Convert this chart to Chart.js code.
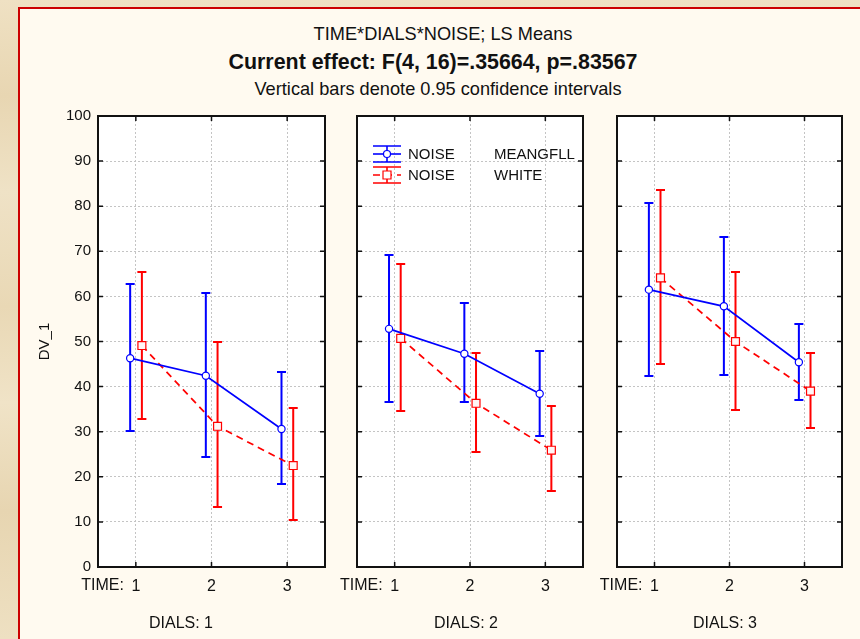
<!DOCTYPE html>
<html>
<head>
<meta charset="utf-8">
<title>TIME*DIALS*NOISE; LS Means</title>
<script src="https://cdn.jsdelivr.net/npm/chart.js@4.4.1/dist/chart.umd.min.js"></script>
<style>
  html, body { margin: 0; padding: 0; }
  body {
    position: relative; width: 860px; height: 639px; overflow: hidden;
    background-color: #ecdcbb;
    background-image:
      linear-gradient(180deg, #efe1c3 0%, #e8d6b2 15%, #efe2c6 30%, #e9d8b5 48%, #f0e3c7 63%, #e7d5b1 80%, #eee0c2 100%),
      none;
    font-family: 'Liberation Sans', Arial, sans-serif; color: #111;
  }
  #sheet {
    position: absolute; left: 18px; top: 7px; width: 900px; height: 700px;
    background: #fffaf0; border-left: 2px solid #cc0000; border-top: 2px solid #cc0000;
  }
  .ttl { position: absolute; width: 876px; text-align: center; white-space: nowrap; }
  #t1 { left: 5px; top: 24px; font-size: 18.2px; line-height: 20px; }
  #t2 { left: -5px; top: 50px; font-size: 21.4px; line-height: 24px; font-weight: bold; }
  #t3 { left: 0; top: 79px; font-size: 18.2px; line-height: 20px; }
  .dial { position: absolute; top: 614px; width: 120px; margin-left: -60px; text-align: center;
          font-size: 16px; line-height: 18px; }
  canvas { position: absolute; top: 100px; }
</style>
</head>
<body>
<div id="sheet"></div>
<div class="ttl" id="t1">TIME*DIALS*NOISE; LS Means</div>
<div class="ttl" id="t2">Current effect: F(4, 16)=.35664, p=.83567</div>
<div class="ttl" id="t3">Vertical bars denote 0.95 confidence intervals</div>
<canvas id="dial1" width="333" height="539" style="left:0px"></canvas>
<canvas id="dial2" width="258" height="539" style="left:333px"></canvas>
<canvas id="dial3" width="268" height="539" style="left:592px"></canvas>
<div class="dial" style="left:181px">DIALS: 1</div>
<div class="dial" style="left:466px">DIALS: 2</div>
<div class="dial" style="left:725px">DIALS: 3</div>
<script>
const timePoints = [1, 2, 3];
const dialLabels = ['DIALS: 1', 'DIALS: 2', 'DIALS: 3'];
const noiseLevels = ['MEANGFLL', 'WHITE'];

// LS means with 95% CI limits, one row per DIALS level, columns = TIME 1..3
const meangfllMean = [[46.3, 42.4, 30.6], [52.8, 47.3, 38.4], [61.5, 57.8, 45.4]];
const meangfllLow  = [[30.2, 24.3, 18.4], [36.5, 36.6, 29.1], [42.3, 42.6, 37.1]];
const meangfllHigh = [[62.8, 60.8, 43.3], [69.2, 58.5, 48.0], [80.7, 73.1, 53.9]];

const whiteMean = [[49.1, 31.2, 22.5], [50.7, 36.3, 25.9], [64.1, 50.0, 39.0]];
const whiteLow  = [[32.9, 13.2, 10.5], [34.5, 25.6, 16.9], [45.0, 34.8, 30.8]];
const whiteHigh = [[65.5, 49.8, 35.3], [67.2, 47.5, 35.6], [83.5, 65.5, 47.5]];

const FONT = "'Liberation Sans', Arial, sans-serif";
Chart.defaults.font.family = FONT;
Chart.defaults.color = '#111';

// the two noise series sit slightly left / right of each TIME position
const shift = [-0.075, 0.08];
const blue = '#0000ff', red = '#ff0000';

// white plot area, frame with inward ticks, "TIME:" prefix
const framePlugin = {
  id: 'framePlugin',
  beforeDraw(chart) {
    const { ctx, chartArea: a } = chart;
    ctx.save();
    ctx.fillStyle = '#ffffff';
    ctx.fillRect(a.left, a.top, a.right - a.left, a.bottom - a.top);
    ctx.restore();
  },
  afterDraw(chart) {
    const { ctx, chartArea: a, scales: { x, y } } = chart;
    ctx.save();
    ctx.strokeStyle = '#111';
    ctx.lineWidth = 1.5;
    ctx.beginPath();
    y.ticks.forEach(t => {
      const py = y.getPixelForValue(t.value);
      ctx.moveTo(a.left, py); ctx.lineTo(a.left + 5, py);
      ctx.moveTo(a.right - 5, py); ctx.lineTo(a.right, py);
    });
    x.ticks.forEach(t => {
      const px = x.getPixelForValue(t.value);
      ctx.moveTo(px, a.top); ctx.lineTo(px, a.top + 5);
      ctx.moveTo(px, a.bottom - 5); ctx.lineTo(px, a.bottom);
    });
    ctx.stroke();
    ctx.lineWidth = 2;
    ctx.strokeRect(a.left, a.top, a.right - a.left, a.bottom - a.top);

    ctx.font = '16px ' + FONT;
    ctx.fillStyle = '#111';
    ctx.textAlign = 'right';
    ctx.textBaseline = 'middle';
    ctx.fillText('TIME:', x.getPixelForValue(timePoints[0]) - 12, a.bottom + 19);
    ctx.restore();
  }
};

// vertical confidence bars with caps
const errorBars = {
  id: 'errorBars',
  beforeDatasetsDraw(chart) {
    const { ctx, scales: { y } } = chart;
    chart.data.datasets.forEach((ds, i) => {
      const meta = chart.getDatasetMeta(i);
      ctx.save();
      ctx.strokeStyle = ds.borderColor;
      ctx.lineWidth = 2;
      ctx.beginPath();
      meta.data.forEach((pt, j) => {
        const top = Math.round(y.getPixelForValue(ds.high[j]));
        const bot = Math.round(y.getPixelForValue(ds.low[j]));
        ctx.moveTo(pt.x, top); ctx.lineTo(pt.x, bot);
        ctx.moveTo(pt.x - 4.5, top); ctx.lineTo(pt.x + 4.5, top);
        ctx.moveTo(pt.x - 4.5, bot); ctx.lineTo(pt.x + 4.5, bot);
      });
      ctx.stroke();
      ctx.restore();
    });
  }
};

// legend inside the middle panel
const noiseLegend = {
  id: 'noiseLegend',
  afterDraw(chart) {
    const { ctx, chartArea: a } = chart;
    const cx = a.left + 30;
    ctx.save();
    chart.data.datasets.forEach((ds, i) => {
      const cy = a.top + 38 + i * 21;
      ctx.strokeStyle = ds.borderColor;
      ctx.lineWidth = 1.6;
      ctx.beginPath();
      ctx.moveTo(cx - 14, cy - 8); ctx.lineTo(cx + 14, cy - 8);
      ctx.moveTo(cx - 14, cy + 8); ctx.lineTo(cx + 14, cy + 8);
      ctx.moveTo(cx, cy - 8); ctx.lineTo(cx, cy + 8);
      ctx.stroke();
      ctx.setLineDash(ds.borderDash || []);
      ctx.beginPath();
      ctx.moveTo(cx - 14, cy); ctx.lineTo(cx + 14, cy);
      ctx.stroke();
      ctx.setLineDash([]);
      ctx.fillStyle = '#fff';
      ctx.lineWidth = 1.2;
      ctx.beginPath();
      if (ds.pointStyle === 'rect') ctx.rect(cx - 4, cy - 4, 8, 8);
      else ctx.arc(cx, cy, 3.5, 0, Math.PI * 2);
      ctx.fill(); ctx.stroke();

      ctx.fillStyle = '#111';
      ctx.font = '15px ' + FONT;
      ctx.textAlign = 'left';
      ctx.textBaseline = 'middle';
      ctx.fillText('NOISE', a.left + 51, cy + 1);
      ctx.fillText(noiseLevels[i], a.left + 137, cy + 1);
    });
    ctx.restore();
  }
};

function makeSeries(means, k) {
  return means.map((v, j) => ({ x: timePoints[j] + shift[k], y: v }));
}

function drawPanel(id, d, pad, yWidth) {
  const first = d === 0;
  const plugins = [framePlugin, errorBars];
  if (d === 1) plugins.push(noiseLegend);
  new Chart(document.getElementById(id).getContext('2d'), {
    type: 'line',
    data: {
      datasets: [
        {
          label: 'NOISE ' + noiseLevels[0],
          data: makeSeries(meangfllMean[d], 0),
          low: meangfllLow[d], high: meangfllHigh[d],
          borderColor: blue, borderWidth: 1.7,
          pointStyle: 'circle', pointRadius: 3.6,
          pointBackgroundColor: '#fff', pointBorderColor: blue, pointBorderWidth: 1.2
        },
        {
          label: 'NOISE ' + noiseLevels[1],
          data: makeSeries(whiteMean[d], 1),
          low: whiteLow[d], high: whiteHigh[d],
          borderColor: red, borderWidth: 1.7, borderDash: [7, 5],
          pointStyle: 'rect', pointRadius: 5.6,
          pointBackgroundColor: '#fff6f6', pointBorderColor: red, pointBorderWidth: 1.2
        }
      ]
    },
    options: {
      responsive: false,
      animation: false,
      layout: { padding: { top: 16, bottom: 0, left: pad[0], right: pad[1] } },
      plugins: { legend: { display: false }, tooltip: { enabled: false } },
      scales: {
        x: {
          type: 'linear', min: 0.5, max: 3.5,
          afterBuildTicks: s => { s.ticks = timePoints.map(v => ({ value: v })); },
          afterFit: s => { s.height = 72; },
          ticks: { padding: 10, font: { size: 16 }, callback: v => String(v) },
          grid: { color: '#c4c4c4', lineWidth: 1, drawTicks: false },
          border: { display: false, dash: [2, 2] }
        },
        y: {
          min: 0, max: 100,
          afterFit: s => { s.width = yWidth; },
          ticks: { display: first, stepSize: 10, padding: 7, font: { size: 15 } },
          grid: { color: '#c4c4c4', lineWidth: 1, drawTicks: false },
          border: { display: false, dash: [2, 2] },
          title: { display: first, text: 'DV_1', font: { size: 15 }, padding: { top: 36 } }
        }
      }
    },
    plugins: plugins
  });
}

drawPanel('dial1', 0, [0, 8], 98);
drawPanel('dial2', 1, [24, 8], 0);
drawPanel('dial3', 2, [25, 18], 0);
</script>
</body>
</html>
